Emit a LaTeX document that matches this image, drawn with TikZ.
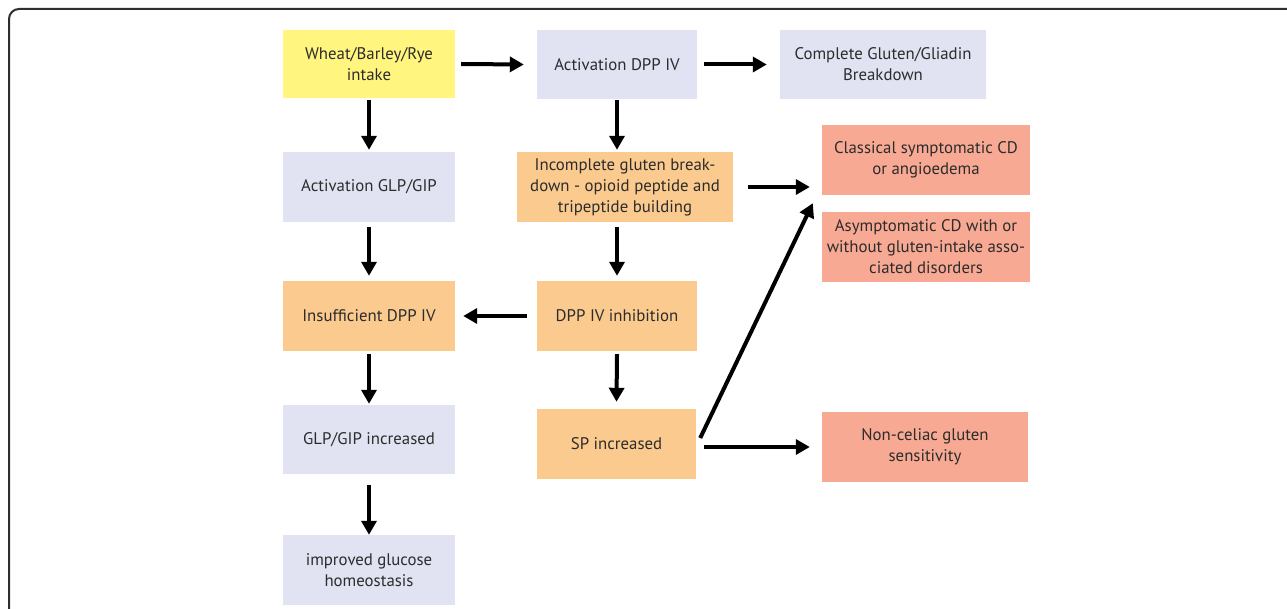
\documentclass[tikz,border=0pt]{standalone}
\usepackage{fontspec}
\setmainfont{PT Sans}
\usetikzlibrary{arrows.meta}
\definecolor{intakeyellow}{HTML}{FFF57F}
\definecolor{activblue}{HTML}{E1E3F2}
\definecolor{effectorange}{HTML}{FBCA8E}
\definecolor{diseasered}{HTML}{F7A993}
\definecolor{textgray}{HTML}{2C2C2C}
\definecolor{framegray}{HTML}{2E2E2E}
\begin{document}
\begin{tikzpicture}[x=1pt,y=-1pt,
  box/.style={inner sep=0pt, align=center, text=textgray,
    font=\fontsize{16.8}{21}\selectfont},
  arr/.style={-{Triangle[length=14pt,width=15pt]}, line width=4pt}]
\useasboundingbox (0,0) rectangle (1287,609);
\draw[framegray, line width=2pt, rounded corners=10pt] (1295,9) -- (9,9) -- (9,620);

% left column
\node[box, fill=intakeyellow, minimum width=172, minimum height=68] (wheat) at (369,64) {Wheat/Barley/Rye\\intake};
\node[box, fill=activblue, minimum width=172, minimum height=70] (glpact) at (369,187) {Activation GLP/GIP};
\node[box, fill=effectorange, minimum width=172, minimum height=70] (insuff) at (369,316) {Insufficient DPP IV};
\node[box, fill=activblue, minimum width=172, minimum height=69] (glpinc) at (369,439.5) {GLP/GIP increased};
\node[box, fill=activblue, minimum width=172, minimum height=70] (glucose) at (369,570) {improved glucose\\homeostasis};

% middle column
\node[box, fill=activblue, minimum width=160, minimum height=69] (dppact) at (617,64.5) {Activation DPP IV};
\node[box, fill=effectorange, minimum width=216, minimum height=70] (incompl) at (625,187) {Incomplete gluten break-\\down - opioid peptide and\\tripeptide building};
\node[box, fill=effectorange, minimum width=160, minimum height=70] (dppinh) at (617,316) {DPP IV inhibition};
\node[box, fill=effectorange, minimum width=159, minimum height=70] (spinc) at (616.5,444) {SP increased};

% right column
\node[box, fill=activblue, minimum width=206, minimum height=69] (complete) at (883,64.5) {Complete Gluten/Gliadin\\Breakdown};
\node[box, fill=diseasered, minimum width=208, minimum height=70] (classical) at (926,160) {Classical symptomatic CD\\or angioedema};
\node[box, fill=diseasered, minimum width=208, minimum height=70] (asympt) at (926,247) {Asymptomatic CD with or\\without gluten-intake asso-\\ciated disorders};
\node[box, fill=diseasered, minimum width=206, minimum height=70] (noncel) at (925,447) {Non-celiac gluten\\sensitivity};

% arrows
\draw[arr] ([xshift=6]wheat.east) -- ([xshift=-13]dppact.west);
\draw[arr] ([xshift=7]dppact.east) -- ([xshift=-13]complete.west);
\draw[arr] ([yshift=-2]wheat.south) -- ([yshift=2]glpact.north);
\draw[arr] ([yshift=-1]dppact.south) -- ([yshift=2]dppact.south |- incompl.north);
\draw[arr] ([xshift=15]incompl.east) -- ([xshift=-12]incompl.east -| classical.west);
\draw[arr] ([yshift=-5]glpact.south) -- ([yshift=5]insuff.north);
\draw[arr] ([yshift=-5]dppinh.north |- incompl.south) -- ([yshift=5]dppinh.north);
\draw[arr] ([xshift=-10]dppinh.west) -- ([xshift=8]insuff.east);
\draw[arr] ([yshift=-3]insuff.south) -- ([yshift=1]glpinc.north);
\draw[arr] ([yshift=-3]dppinh.south) -- ([yshift=7]spinc.north);
\draw[arr] ([xshift=4,yshift=6]spinc.east) -- ([xshift=-9,yshift=-8]classical.south west);
\draw[arr] ([xshift=8]spinc.east |- noncel.west) -- ([xshift=-12]noncel.west);
\draw[arr] ([yshift=-11]glpinc.south) -- (glucose.north);
\end{tikzpicture}
\end{document}
